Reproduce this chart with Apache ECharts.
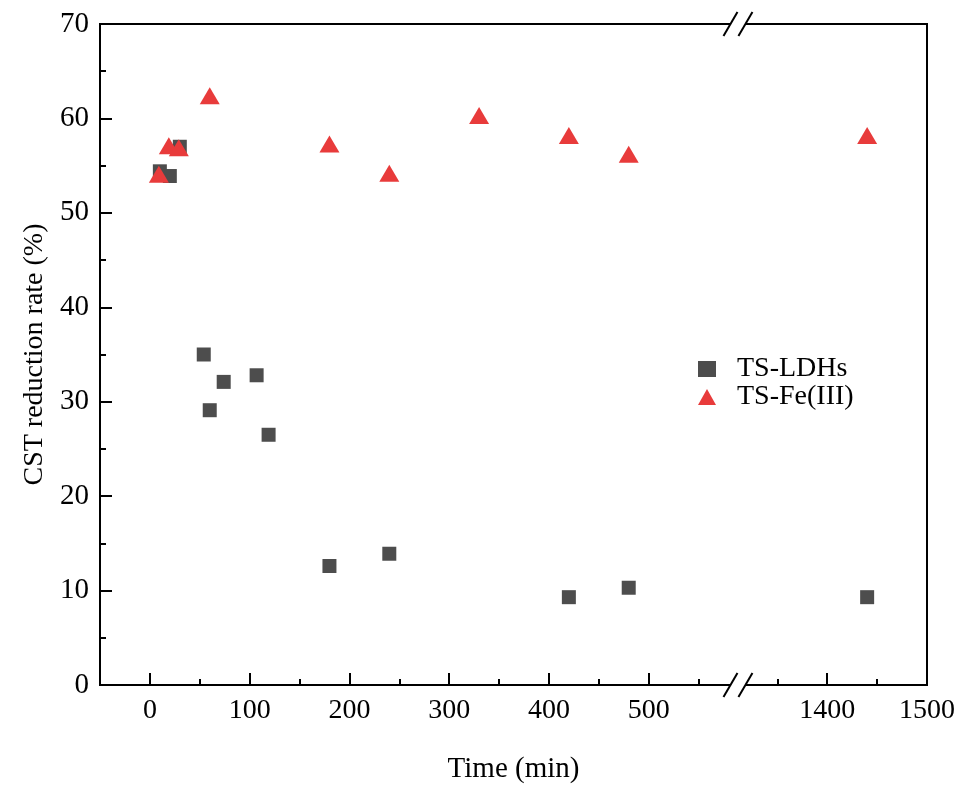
<!DOCTYPE html>
<html><head><meta charset="utf-8">
<script src="https://cdn.jsdelivr.net/npm/echarts@6/dist/echarts.min.js"></script>
<style>html,body{margin:0;padding:0;background:#fff}#c{width:963px;height:789px}</style>
</head><body><div id="c"></div>
<script>
const ldhTime = [10, 20, 30, 54, 60, 74, 107, 119, 180, 240, 420, 480, 1440];
const ldhRate = [54.4, 53.9, 57.0, 35.0, 29.1, 32.1, 32.8, 26.5, 12.6, 13.9, 9.3, 10.3, 9.3];
const feTime = [9, 19, 29, 60, 180, 240, 330, 420, 480, 1440];
const feRate = [54.1, 57.1, 56.9, 62.4, 57.3, 54.2, 60.3, 58.2, 56.2, 58.2];
const xMajorTicks = [0, 100, 200, 300, 400, 500, 1400, 1500];
const xMinorTicks = [50, 150, 250, 350, 450, 550, 1350, 1450];
const breakStart = 582, breakEnd = 1318;

const FONT = 'Liberation Serif';
const chart = echarts.init(document.getElementById('c'), null, {renderer: 'canvas'});
const zip = (a, b) => a.map((v, i) => [v, b[i]]);
const brk = [{start: breakStart, end: breakEnd, gap: 15}];

const option = {
  backgroundColor: '#fff',
  animation: false,
  grid: {left: 100, right: 36, top: 24, bottom: 99, show: true, borderColor: '#000', borderWidth: 2, backgroundColor: 'transparent'},
  legend: {
    orient: 'vertical', left: 693, top: 350, itemWidth: 18, itemHeight: 16, itemGap: 0,
    textStyle: {fontFamily: FONT, fontSize: 28, color: '#000', lineHeight: 28, padding: [0, 0, 0, 16]},
    data: [{name: 'TS-LDHs'}, {name: 'TS-Fe(III)'}]
  },
  xAxis: [{
    type: 'value', min: -50, max: 1500, breaks: brk, breakArea: {show: false},
    name: 'Time (min)', nameLocation: 'middle', nameGap: 70,
    nameTextStyle: {fontFamily: FONT, fontSize: 29, color: '#000'},
    axisLine: {show: true, onZero: false, lineStyle: {color: '#000', width: 2}},
    axisTick: {show: true, inside: true, length: 12, customValues: xMajorTicks, lineStyle: {color: '#000', width: 2}},
    axisLabel: {customValues: xMajorTicks, formatter: v => String(v), fontFamily: FONT, fontSize: 28, color: '#000', margin: 12},
    splitLine: {show: false}
  }, {
    type: 'value', min: -50, max: 1500, breaks: brk, breakArea: {show: false}, position: 'bottom',
    axisLine: {show: false, onZero: false},
    axisTick: {show: true, inside: true, length: 6, customValues: xMinorTicks, lineStyle: {color: '#000', width: 2}},
    axisLabel: {show: false},
    splitLine: {show: false}
  }],
  yAxis: {
    type: 'value', min: 0, max: 70, interval: 10,
    name: 'CST reduction rate (%)', nameLocation: 'middle', nameGap: 50,
    nameTextStyle: {fontFamily: FONT, fontSize: 28, color: '#000'},
    axisLine: {show: true, onZero: false, lineStyle: {color: '#000', width: 2}},
    axisTick: {show: true, inside: true, length: 12, lineStyle: {color: '#000', width: 2}},
    minorTick: {show: true, splitNumber: 2, length: 6, lineStyle: {color: '#000', width: 2}},
    axisLabel: {fontFamily: FONT, fontSize: 29, color: '#000', margin: 11},
    splitLine: {show: false}
  },
  series: [{
    name: 'TS-LDHs', type: 'scatter', symbol: 'rect', symbolSize: 14,
    itemStyle: {color: '#4d4d4d', opacity: 1}, data: zip(ldhTime, ldhRate), z: 2
  }, {
    name: 'TS-Fe(III)', type: 'scatter', symbol: 'triangle', symbolSize: [20, 17],
    itemStyle: {color: '#e83b3b', opacity: 1}, data: zip(feTime, feRate), z: 3
  }]
};
chart.setOption(option);

// axis-break marks "//" on top and bottom frame lines
const x0 = chart.convertToPixel({xAxisIndex: 0}, breakStart);
const x1 = chart.convertToPixel({xAxisIndex: 0}, breakEnd);
const yTop = chart.convertToPixel({yAxisIndex: 0}, 70);
const yBot = chart.convertToPixel({yAxisIndex: 0}, 0);
const g = [];
[yTop, yBot].forEach(y => {
  g.push({type: 'rect', shape: {x: x0, y: y - 4, width: x1 - x0, height: 8}, style: {fill: '#fff'}, z: 100});
  [x0, x1].forEach(x => {
    g.push({type: 'line', shape: {x1: x - 7, y1: y + 12, x2: x + 7, y2: y - 12}, style: {stroke: '#000', lineWidth: 2}, z: 101});
  });
});
chart.setOption({graphic: g});
</script></body></html>
